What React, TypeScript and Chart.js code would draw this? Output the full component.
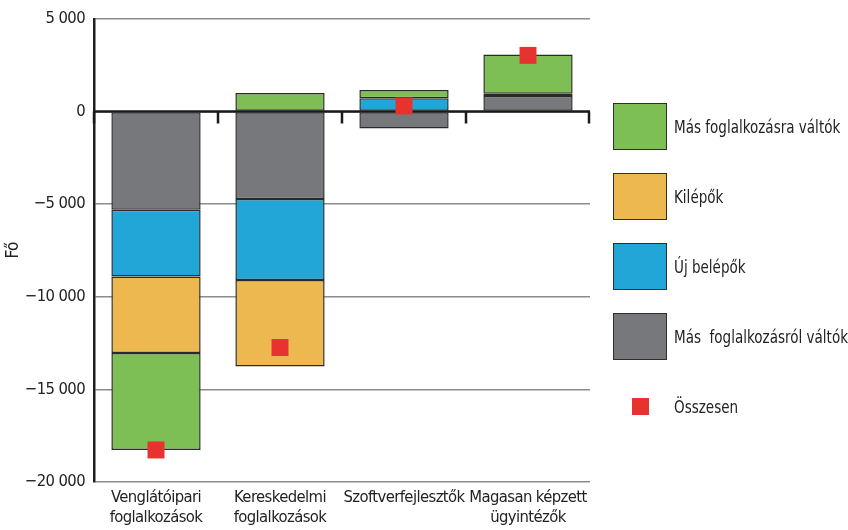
import React, { useEffect, useRef } from "react";
import { Chart, registerables } from "chart.js";

Chart.register(...registerables);

const categories: (string | string[])[] = [
  ["Venglátóipari", "foglalkozások"],
  ["Kereskedelmi", "foglalkozások"],
  "Szoftverfejlesztők",
  ["Magasan képzett", "ügyintézők"],
];

const seriesNames = {
  gray: "Más  foglalkozásról váltók",
  blue: "Új belépők",
  yellow: "Kilépők",
  green: "Más foglalkozásra váltók",
  total: "Összesen",
};

const grayValues = [-5300, -4720, -910, 840];
const blueValues = [-3610, -4370, 710, 125];
const yellowValues = [-4120, -4670, 0, 0];
const greenValues = [-5240, 1000, 455, 2110];
const totalValues = [-18270, -12740, 300, 3030];

const yTicks = { min: -20000, max: 5000, step: 5000 };

const COLORS = {
  gray: "#77787b",
  blue: "#22a6d8",
  yellow: "#ecb84f",
  green: "#7dbe55",
  total: "#e83230",
  border: "#2a2a2a",
};

const FONT = "'DejaVu Sans Condensed', 'Liberation Sans', sans-serif";

function fmt(v: number): string {
  const abs = Math.abs(v);
  const s = abs >= 1000 ? `${Math.floor(abs / 1000)} ${String(abs % 1000).padStart(3, "0")}` : String(abs);
  return v < 0 ? `\u2212${s}` : s;
}

const condensePlugin = {
  id: "condense",
  beforeDraw(chart: any) {
    try {
      (chart.ctx as any).letterSpacing = "-0.6px";
    } catch (e) {}
  },
};

const zeroTicksPlugin = {
  id: "zeroTicks",
  beforeDatasetsDraw(chart: any) {
    const { ctx, chartArea } = chart;
    const x = chart.scales.x;
    const y = chart.scales.y;
    const y0 = y.getPixelForValue(0);
    const n = categories.length;
    ctx.save();
    ctx.strokeStyle = "#1a1a1a";
    ctx.lineWidth = 2.5;
    ctx.beginPath();
    ctx.moveTo(chartArea.left, y0);
    ctx.lineTo(chartArea.right, y0);
    ctx.stroke();
    for (let i = 0; i <= n; i++) {
      const px = i === 0 ? chartArea.left : i === n ? chartArea.right - 1 : x.getPixelForValue(i - 0.5);
      ctx.beginPath();
      ctx.moveTo(px, y0);
      ctx.lineTo(px, y0 + 12);
      ctx.stroke();
    }
    ctx.restore();
  },
};

const legendItems = [
  { name: seriesNames.green, color: COLORS.green, box: true },
  { name: seriesNames.yellow, color: COLORS.yellow, box: true },
  { name: seriesNames.blue, color: COLORS.blue, box: true },
  { name: seriesNames.gray, color: COLORS.gray, box: true },
  { name: seriesNames.total, color: COLORS.total, box: false },
];

export default function App() {
  const canvasRef = useRef<HTMLCanvasElement | null>(null);

  useEffect(() => {
    document.body.style.margin = "0";
    const canvas = canvasRef.current;
    if (!canvas) return;
    const barCommon = {
      type: "bar" as const,
      borderColor: COLORS.border,
      borderWidth: 1.5,
      borderSkipped: false as const,
      barPercentage: 0.72,
      categoryPercentage: 1,
      stack: "s",
    };
    const chart = new Chart(canvas, {
      type: "bar",
      data: {
        labels: categories as any,
        datasets: [
          {
            type: "line",
            label: seriesNames.total,
            data: totalValues,
            showLine: false,
            pointStyle: "rect",
            pointRadius: 12,
            pointHoverRadius: 12,
            pointBackgroundColor: COLORS.total,
            pointBorderWidth: 0,
            backgroundColor: COLORS.total,
            borderColor: COLORS.total,
            stack: "total",
          } as any,
          { ...barCommon, label: seriesNames.gray, data: grayValues, backgroundColor: COLORS.gray },
          { ...barCommon, label: seriesNames.blue, data: blueValues, backgroundColor: COLORS.blue },
          { ...barCommon, label: seriesNames.yellow, data: yellowValues, backgroundColor: COLORS.yellow },
          { ...barCommon, label: seriesNames.green, data: greenValues, backgroundColor: COLORS.green },
        ],
      },
      options: {
        responsive: false,
        animation: false,
        layout: { padding: { top: 16, right: 258, left: 0, bottom: 0 } },
        plugins: { legend: { display: false }, tooltip: { enabled: false } },
        scales: {
          x: {
            stacked: true,
            grid: { display: false, drawTicks: false },
            border: { display: false },
            ticks: {
              color: "#222",
              font: { family: FONT, size: 16.5, lineHeight: 1.25 },
              padding: 5,
              maxRotation: 0,
              autoSkip: false,
            },
            afterFit(scale: any) {
              scale.height = 48;
            },
          },
          y: {
            stacked: true,
            min: yTicks.min,
            max: yTicks.max,
            ticks: {
              stepSize: yTicks.step,
              color: "#222",
              font: { family: FONT, size: 16.5 },
              padding: 9,
              callback: (v: any) => fmt(Number(v)),
            },
            grid: {
              drawTicks: false,
              color: "#8c8c8c",
              lineWidth: 1.5,
            },
            border: { display: true, color: "#1f1f1f", width: 2.5 },
            title: {
              display: true,
              text: "Fő",
              color: "#222",
              font: { family: FONT, size: 17 },
              padding: { top: 3, bottom: 0 },
            },
            afterFit(scale: any) {
              scale.width = 94;
            },
          },
        },
      },
      plugins: [condensePlugin, zeroTicksPlugin],
    });
    return () => chart.destroy();
  }, []);

  return (
    <div style={{ position: "relative", width: 848, height: 530, background: "#fff", overflow: "hidden" }}>
      <canvas ref={canvasRef} width={848} height={530} style={{ display: "block", width: 848, height: 530 }} />
      {legendItems.map((item, i) => {
        const top = 103 + i * 70;
        return (
          <div key={i}>
            {item.box ? (
              <div
                style={{
                  position: "absolute",
                  left: 613,
                  top,
                  width: 54,
                  height: 47,
                  boxSizing: "border-box",
                  background: item.color,
                  border: "1.5px solid #2e2e2e",
                }}
              />
            ) : (
              <div
                style={{
                  position: "absolute",
                  left: 632,
                  top: top + 15,
                  width: 17,
                  height: 17,
                  background: item.color,
                }}
              />
            )}
            <div
              style={{
                position: "absolute",
                left: 674,
                top,
                height: 47,
                lineHeight: "47px",
                fontFamily: FONT,
                fontSize: 18,
                color: "#222",
                whiteSpace: "pre",
                transform: "scaleX(0.835)",
                transformOrigin: "left center",
              }}
            >
              {item.name}
            </div>
          </div>
        );
      })}
    </div>
  );
}
